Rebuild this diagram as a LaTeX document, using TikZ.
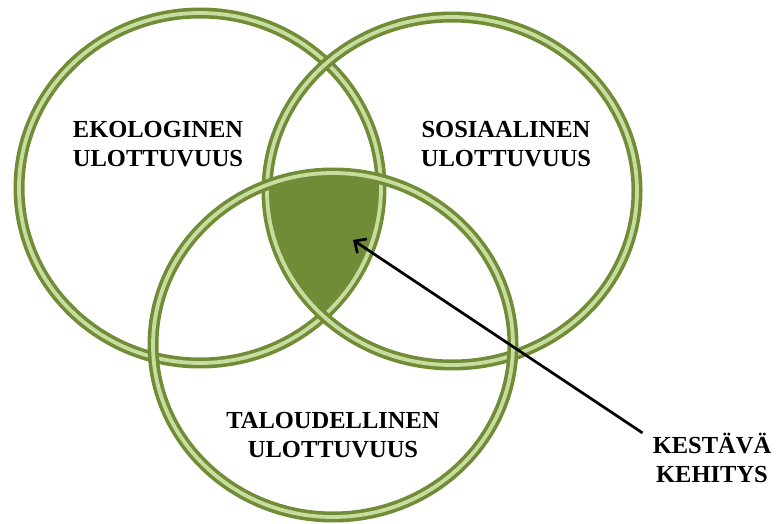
\documentclass[tikz,border=0pt]{standalone}
\usepackage{fontspec}
\setmainfont{Liberation Serif}
\usepackage{tikz}
\usetikzlibrary{arrows.meta}
\definecolor{olivedark}{HTML}{718C36}
\definecolor{olivelight}{HTML}{C8DCA0}
\tikzset{
  ringout/.style={draw=olivedark,line width=11pt},
  ringin/.style={draw=olivelight,line width=3.8pt},
  dimlabel/.style={font=\fontsize{24.5}{29}\selectfont\bfseries,align=center,inner sep=0pt}
}

\begin{document}
\begin{tikzpicture}[x=1pt,y=-1pt,>={Straight Barb[length=9pt,width=17pt]}]
  \useasboundingbox (0,0) rectangle (776,524);
  % shared part of the three dimensions
  \begin{scope}
    \clip (200,188) ellipse [x radius=181,y radius=175];
    \clip (452,191) ellipse [x radius=185,y radius=174];
    \fill[olivedark] (333,345) ellipse [x radius=180,y radius=172];
  \end{scope}
  \foreach \cx/\cy/\rx/\ry in {200/188/181/175,452/191/185/174,333/345/180/172} {
    \draw[ringout] (\cx,\cy) ellipse [x radius=\rx,y radius=\ry];
    \draw[ringin] (\cx,\cy) ellipse [x radius=\rx,y radius=\ry];
  }
  \node[dimlabel] (ekolog) at (158,144) {EKOLOGINEN\\ULOTTUVUUS};
  \node[dimlabel] (sosiaal) at (506,144) {SOSIAALINEN\\ULOTTUVUUS};
  \node[dimlabel] (talous) at (333,435) {TALOUDELLINEN\\ULOTTUVUUS};
  \node[dimlabel] (kestava) at (712,458) {KESTÄVÄ\\KEHITYS};
  \coordinate (core) at (353,240);
  \draw[->,line width=2.7pt] ([xshift=-10pt]kestava.north west) -- (core);
\end{tikzpicture}
\end{document}
